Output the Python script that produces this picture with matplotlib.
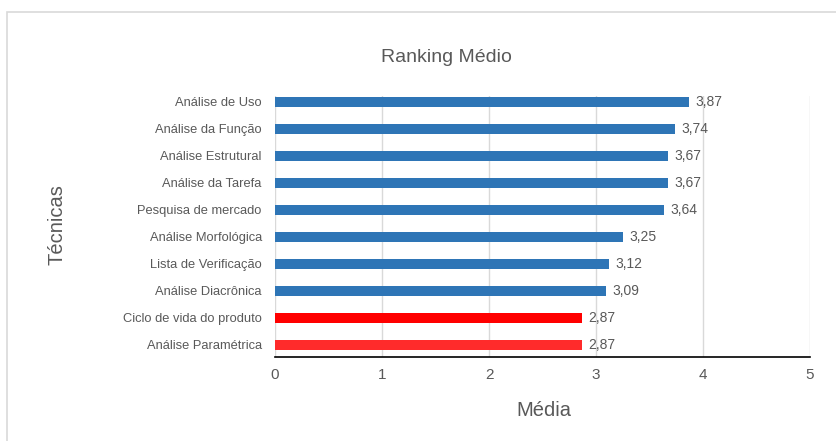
import matplotlib.pyplot as plt
from matplotlib.patches import Rectangle

# dados (de baixo para cima)
tecnicas = ['Análise Paramétrica', 'Ciclo de vida do produto', 'Análise Diacrônica',
            'Lista de Verificação', 'Análise Morfológica', 'Pesquisa de mercado',
            'Análise da Tarefa', 'Análise Estrutural', 'Análise da Função', 'Análise de Uso']
medias = [2.87, 2.87, 3.09, 3.12, 3.25, 3.64, 3.67, 3.67, 3.74, 3.87]
cores = ['#FF2B2B', '#FF0000'] + ['#2E75B6'] * 8

plt.rcParams['font.family'] = ['Liberation Sans', 'DejaVu Sans']
cinza = '#595959'

fig = plt.figure(figsize=(8.36, 4.41), dpi=100)
# moldura do gráfico
fig.patches.append(Rectangle((7 / 836, -0.01), 1.0, 1 - 12 / 441 + 0.01,
                             transform=fig.transFigure, fill=False,
                             edgecolor='#D9D9D9', linewidth=1.2))

ax = fig.add_axes([275 / 836, 1 - 357 / 441, (810 - 275) / 836, (357 - 96) / 441])
pos = list(range(len(tecnicas)))
ax.barh(pos, medias, height=0.37, color=cores, zorder=3)

for y, v in zip(pos, medias):
    ax.text(v + 0.06, y, f'{v:.2f}'.replace('.', ','), va='center', ha='left',
            fontsize=10, color=cinza)

ax.set_xlim(0, 5)
ax.set_ylim(-0.46, 9.22)
ax.set_xticks([0, 1, 2, 3, 4, 5])
ax.set_yticks(pos)
ax.set_yticklabels(tecnicas)
ax.tick_params(axis='y', length=0, pad=9.5, labelsize=9.3, labelcolor=cinza)
ax.tick_params(axis='x', length=0, pad=8, labelsize=11, labelcolor=cinza)
ax.grid(axis='x', color='#D9D9D9', linewidth=1, zorder=0)

for s in ['top', 'right', 'left']:
    ax.spines[s].set_visible(False)
ax.spines['bottom'].set_color('#000000')
ax.spines['bottom'].set_linewidth(1.2)

ax.set_xlabel('Média', fontsize=14.5, color=cinza)
ax.set_ylabel('Técnicas', fontsize=14.5, color=cinza)
ax.xaxis.set_label_coords(0.5 + (544 - 542.5) / 535, -(410 - 357) / 261)
ax.yaxis.set_label_coords(-(275 - 57) / 535, 0.5 + (226.5 - 225) / 261)
ax.xaxis.label.set_va('center')
ax.yaxis.label.set_va('center')
fig.text(446 / 836, 1 - 57 / 441, 'Ranking Médio', ha='center', va='center',
         fontsize=14, color=cinza)

fig.savefig('out.png', dpi=100)
